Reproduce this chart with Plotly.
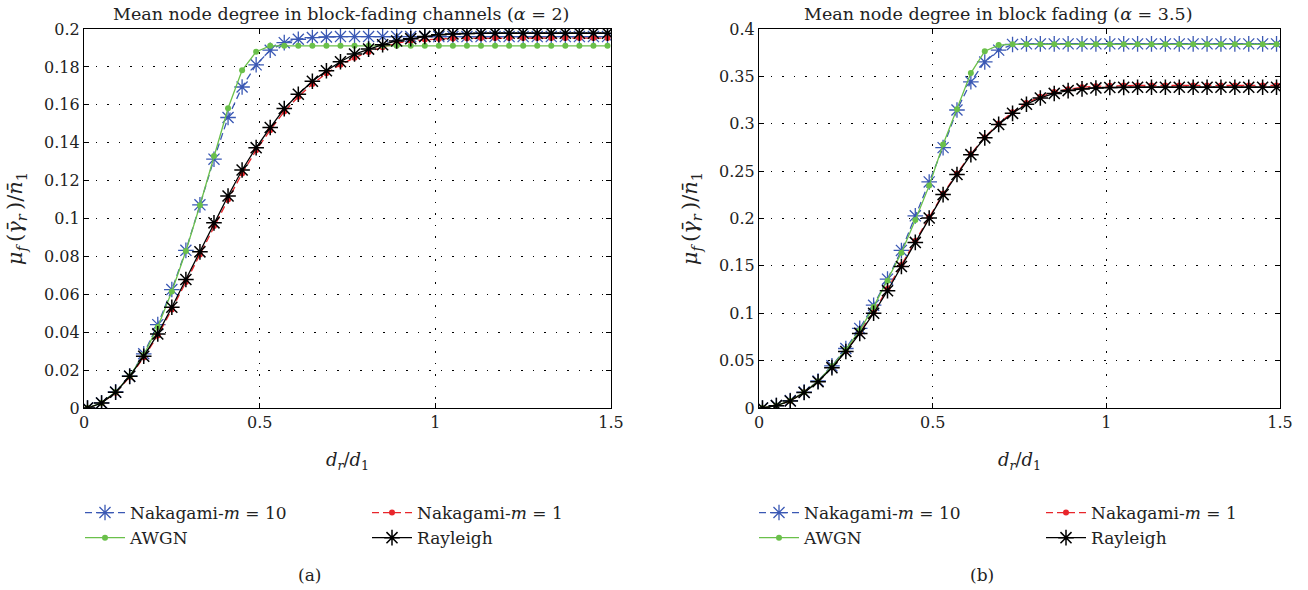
import plotly.graph_objects as go

# ---------------- data ----------------
x_ratio = [0.01, 0.05, 0.09, 0.13, 0.17, 0.21, 0.25, 0.29, 0.33, 0.37,
           0.41, 0.45, 0.49, 0.53, 0.57, 0.61, 0.65, 0.69, 0.73, 0.77,
           0.81, 0.85, 0.89, 0.93, 0.97, 1.01, 1.05, 1.09, 1.13, 1.17,
           1.21, 1.25, 1.29, 1.33, 1.37, 1.41, 1.45, 1.49]

# (a) alpha = 2
a_nak10 = [0, 0.0027, 0.0085, 0.0168, 0.0286, 0.044, 0.0625, 0.0832, 0.1072, 0.1313,
           0.1533, 0.1694, 0.1811, 0.1888, 0.1928, 0.1946, 0.1955, 0.1958, 0.196, 0.196,
           0.196, 0.196, 0.196, 0.196, 0.196, 0.196, 0.196, 0.196, 0.196, 0.196,
           0.196, 0.196, 0.196, 0.196, 0.196, 0.196, 0.196, 0.196]
a_nak1 = [0, 0.0025, 0.0081, 0.0164, 0.0267, 0.0382, 0.052, 0.0665, 0.081, 0.096,
          0.110, 0.1238, 0.136, 0.1466, 0.1565, 0.1642, 0.171, 0.1766, 0.1812, 0.1848,
          0.1879, 0.1904, 0.1925, 0.1937, 0.1944, 0.1948, 0.195, 0.1951, 0.1952, 0.1952,
          0.1952, 0.1952, 0.1952, 0.1952, 0.1952, 0.1952, 0.1952, 0.1952]
a_awgn = [0, 0.0027, 0.0084, 0.0168, 0.028, 0.0428, 0.0615, 0.0828, 0.107, 0.133,
          0.1582, 0.1782, 0.188, 0.1911, 0.1911, 0.1911, 0.1911, 0.1911, 0.1911, 0.1911,
          0.1911, 0.1911, 0.1911, 0.1911, 0.1911, 0.1911, 0.1911, 0.1911, 0.1911, 0.1911,
          0.1911, 0.1911, 0.1911, 0.1911, 0.1911, 0.1911, 0.1911, 0.1911]
a_rayl = [0, 0.0026, 0.0083, 0.0167, 0.0273, 0.0391, 0.0532, 0.0678, 0.0824, 0.0977,
          0.1119, 0.1256, 0.1374, 0.148, 0.158, 0.1656, 0.1724, 0.178, 0.1827, 0.1868,
          0.1894, 0.1917, 0.1937, 0.1949, 0.1961, 0.197, 0.1974, 0.1976, 0.1977, 0.1978,
          0.1978, 0.1978, 0.1978, 0.1978, 0.1978, 0.1978, 0.1978, 0.1978]

# (b) alpha = 3.5
b_nak10 = [0, 0.0026, 0.0078, 0.0168, 0.0285, 0.0445, 0.0628, 0.084, 0.1085, 0.136,
           0.1663, 0.2028, 0.2386, 0.2748, 0.3145, 0.3443, 0.3652, 0.3777, 0.3837, 0.3843,
           0.3843, 0.3843, 0.3843, 0.3843, 0.3843, 0.3843, 0.3843, 0.3843, 0.3843, 0.3843,
           0.3843, 0.3843, 0.3843, 0.3843, 0.3843, 0.3843, 0.3843, 0.3843]
b_nak1 = [0, 0.0025, 0.0075, 0.0165, 0.028, 0.043, 0.060, 0.0795, 0.1012, 0.1255,
          0.151, 0.1762, 0.2015, 0.226, 0.2475, 0.268, 0.2858, 0.3003, 0.3122, 0.3218,
          0.3285, 0.3335, 0.3365, 0.3385, 0.3395, 0.34, 0.3403, 0.3405, 0.3405, 0.3405,
          0.3405, 0.3405, 0.3405, 0.3405, 0.3405, 0.3405, 0.3405, 0.3405]
b_awgn = [0, 0.0026, 0.0077, 0.0167, 0.0283, 0.044, 0.0615, 0.082, 0.1067, 0.1344,
          0.1638, 0.1985, 0.2347, 0.278, 0.3152, 0.3535, 0.3766, 0.383, 0.3838, 0.3838,
          0.3838, 0.3838, 0.3838, 0.3838, 0.3838, 0.3838, 0.3838, 0.3838, 0.3838, 0.3838,
          0.3838, 0.3838, 0.3838, 0.3838, 0.3838, 0.3838, 0.3838, 0.3838]
b_rayl = [0, 0.0025, 0.0074, 0.0163, 0.0277, 0.0426, 0.0596, 0.0787, 0.100, 0.1238,
          0.1493, 0.1748, 0.2005, 0.2252, 0.2464, 0.2674, 0.2851, 0.2993, 0.311, 0.3206,
          0.3272, 0.332, 0.335, 0.3368, 0.3378, 0.3382, 0.3384, 0.3385, 0.3385, 0.3385,
          0.3385, 0.3385, 0.3385, 0.3385, 0.3385, 0.3385, 0.3385, 0.3385]

series_names = ["Nakagami-<i>m</i> = 10", "Nakagami-<i>m</i> = 1", "AWGN", "Rayleigh"]
panel_titles = ["Mean node degree in block-fading channels (<i>α</i> = 2)",
                "Mean node degree in block fading (<i>α</i> = 3.5)"]
panel_labels = ["(a)", "(b)"]
x_ticks = [0, 0.5, 1, 1.5]
a_yticks = [0, 0.02, 0.04, 0.06, 0.08, 0.1, 0.12, 0.14, 0.16, 0.18, 0.2]
b_yticks = [0, 0.05, 0.1, 0.15, 0.2, 0.25, 0.3, 0.35, 0.4]

# ---------------- layout helpers ----------------
W, H = 1308, 590
FONT = "DejaVu Serif"
TXT = "#222222"


def px(xp):
    return xp / W


def py(yp):
    return 1 - yp / H


BLUE = "#3a58b4"
RED = "#e8252b"
GREEN = "#6ac04a"
BLACK = "#000000"

styles = [
    dict(color=BLUE, dash="7px,4px", symbol="asterisk-open", msize=13, mlw=1.3),
    dict(color=RED, dash="7px,4px", symbol="circle", msize=6, mlw=0),
    dict(color=GREEN, dash="solid", symbol="circle", msize=6, mlw=0),
    dict(color=BLACK, dash="solid", symbol="asterisk-open", msize=13, mlw=1.5),
]

fig = go.Figure()

panels = [
    dict(data=[a_nak10, a_nak1, a_awgn, a_rayl], xa="x", ya="y", legends=["legend", "legend2"]),
    dict(data=[b_nak10, b_nak1, b_awgn, b_rayl], xa="x2", ya="y2", legends=["legend3", "legend4"]),
]

for p in panels:
    for i, (ys, st, nm) in enumerate(zip(p["data"], styles, series_names)):
        leg = p["legends"][0] if i in (0, 2) else p["legends"][1]
        mk = dict(symbol=st["symbol"], size=st["msize"], color=st["color"])
        if st["mlw"]:
            mk["line"] = dict(color=st["color"], width=st["mlw"])
        fig.add_trace(go.Scatter(
            x=x_ratio, y=ys, name=nm, mode="lines+markers",
            xaxis=p["xa"], yaxis=p["ya"], legend=leg,
            line=dict(color=st["color"], width=1.3, dash=st["dash"]),
            marker=mk,
        ))

# plot area pixel boxes
L1, R1 = 84, 611
L2, R2 = 759, 1280
TOP, BOT = 29, 408

axis_common = dict(
    showline=True, linecolor="black", linewidth=1.2, mirror="ticks",
    ticks="inside", ticklen=5, tickcolor="black", tickwidth=1,
    showgrid=True, gridcolor="black", gridwidth=1.1, griddash="1.5px,10px",
    zeroline=False, automargin=False,
    tickfont=dict(family=FONT, size=16, color=TXT),
)

x_title = "<i>d<sub>r</sub></i>/<i>d</i><sub>1</sub>"
y_title = ("<i>μ<sub>f</sub></i>\u2009(<i>γ\u0304<sub>r</sub></i>\u2009)"
           "/<i>n\u0304</i><sub>1</sub>")
tfont = dict(family=FONT, size=17.5, color=TXT)
afont = dict(family=FONT, size=18, color=TXT)
yfont = dict(family=FONT, size=21, color=TXT)

fig.update_layout(
    template="none",
    width=W, height=H,
    margin=dict(l=0, r=0, t=0, b=0, autoexpand=False),
    paper_bgcolor="white", plot_bgcolor="white",
    font=dict(family=FONT, size=17, color=TXT),
    xaxis=dict(domain=[px(L1), px(R1)], range=[0, 1.5], tickvals=x_ticks,
               title=dict(text=x_title, standoff=22, font=afont),
               anchor="y", **axis_common),
    yaxis=dict(domain=[py(BOT), py(TOP)], range=[0, 0.2], tickvals=a_yticks,
               title=dict(text=y_title, standoff=15, font=yfont),
               anchor="x", **axis_common),
    xaxis2=dict(domain=[px(L2), px(R2)], range=[0, 1.5], tickvals=x_ticks,
                title=dict(text=x_title, standoff=22, font=afont),
                anchor="y2", **axis_common),
    yaxis2=dict(domain=[py(BOT), py(TOP)], range=[0, 0.4], tickvals=b_yticks,
                title=dict(text=y_title, standoff=15, font=yfont),
                anchor="x2", **axis_common),
    showlegend=True,
)

leg_common = dict(orientation="v", xanchor="left", yanchor="top",
                  bgcolor="rgba(0,0,0,0)", borderwidth=0, tracegroupgap=0,
                  itemwidth=40, font=dict(family=FONT, size=17, color=TXT),
                  xref="paper", yref="paper")
LEG_TOP = 495
fig.update_layout(
    legend=dict(x=px(80), y=py(LEG_TOP), **leg_common),
    legend2=dict(x=px(367), y=py(LEG_TOP), **leg_common),
    legend3=dict(x=px(754), y=py(LEG_TOP), **leg_common),
    legend4=dict(x=px(1041), y=py(LEG_TOP), **leg_common),
)

# panel titles and labels
for cx, t in zip([341, 998], panel_titles):
    fig.add_annotation(x=px(cx), y=py(14), xref="paper", yref="paper", text=t,
                       showarrow=False, xanchor="center", yanchor="middle",
                       font=tfont)
for cx, t in zip([309, 982], panel_labels):
    fig.add_annotation(x=px(cx), y=py(575), xref="paper", yref="paper", text=t,
                       showarrow=False, xanchor="center", yanchor="middle",
                       font=dict(family=FONT, size=17, color=TXT))

fig.write_html("out.html",
               config={"displayModeBar": False},
               post_script="document.body.style.margin='0px';"
                           "document.documentElement.style.overflow='hidden';")
